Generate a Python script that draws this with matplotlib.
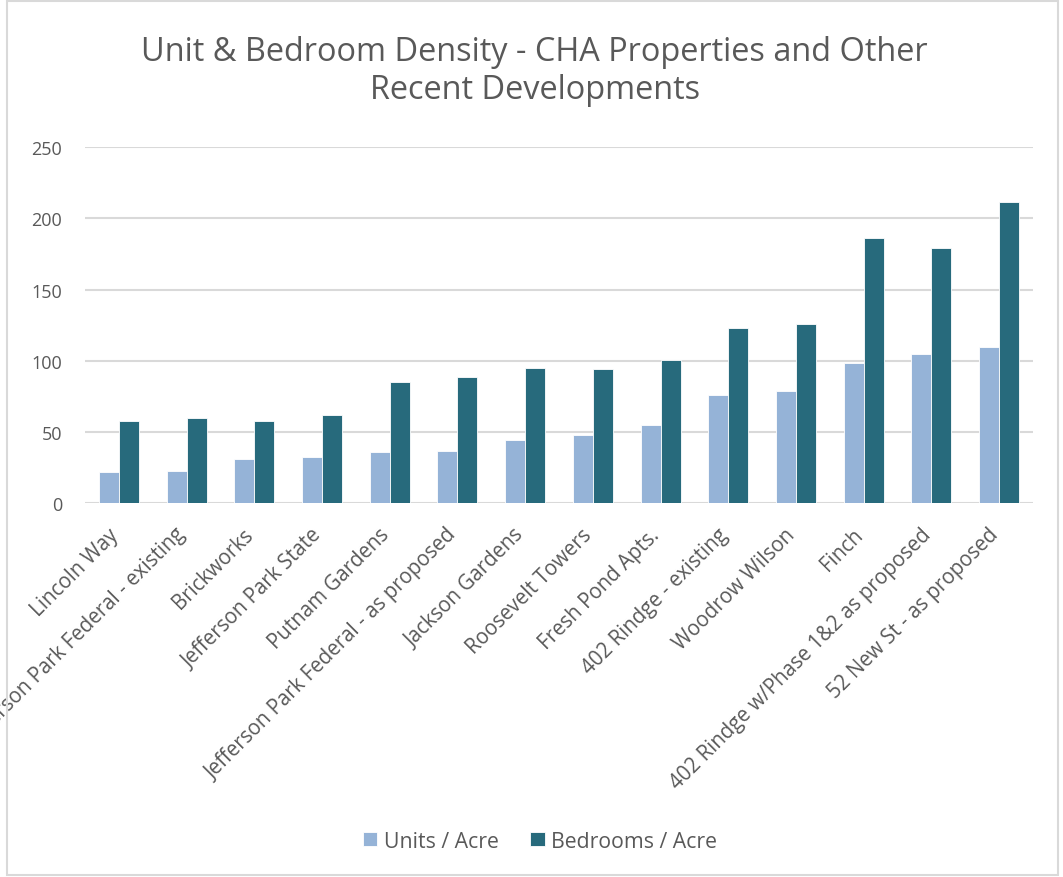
import matplotlib
matplotlib.use('Agg')
import matplotlib.pyplot as plt
import numpy as np

# values
sites = ['Lincoln Way', 'Jefferson Park Federal - existing', 'Brickworks',
         'Jefferson Park State', 'Putnam Gardens',
         'Jefferson Park Federal - as proposed', 'Jackson Gardens',
         'Roosevelt Towers', 'Fresh Pond Apts.', '402 Rindge - existing',
         'Woodrow Wilson', 'Finch', '402 Rindge w/Phase 1&2 as proposed',
         '52 New St - as proposed']
units = [22.0, 23.0, 31.0, 32.8, 36.1, 36.6, 44.6, 47.6, 54.9, 76.1,
         79.1, 98.3, 104.6, 109.4]
bedrooms = [57.7, 59.6, 58.0, 62.0, 84.8, 88.7, 95.1, 94.4, 100.4, 123.2,
            125.6, 185.9, 178.9, 211.5]
yticks = [0, 50, 100, 150, 200, 250]

text_col = '#595959'
grid_col = '#D9D9D9'
plt.rcParams['font.family'] = ['Open Sans', 'DejaVu Sans']

fig = plt.figure(figsize=(10.63, 8.78), dpi=100)
ax = fig.add_axes([0.080, 0.4256, 0.8918, 0.4058])

x = np.arange(len(sites))
w = 0.295
ax.bar(x - w / 2, units, w, color='#95B3D7', edgecolor='white', linewidth=0.6,
       label='Units / Acre', zorder=3)
ax.bar(x + w / 2, bedrooms, w, color='#276A7C', edgecolor='white', linewidth=0.6,
       label='Bedrooms / Acre', zorder=3)

ax.set_xlim(-0.5, len(sites) - 0.5)
ax.set_ylim(0, 250)
ax.set_yticks(yticks)
ax.grid(axis='y', color=grid_col, linewidth=1.5, zorder=0)
for s in ['top', 'right', 'left', 'bottom']:
    ax.spines[s].set_visible(False)
ax.tick_params(length=0, colors=text_col)
ax.tick_params(axis='y', pad=16.5, labelsize=13)
ax.set_xticks(x)
ax.set_xticklabels(sites, rotation=45, ha='right', va='baseline',
                   rotation_mode='anchor')
ax.tick_params(axis='x', pad=23, labelsize=14.8)

fig.text(0.503, 0.919, 'Unit & Bedroom Density - CHA Properties and Other\nRecent Developments',
         ha='center', va='center', fontsize=23.4, color=text_col, linespacing=1.2)

fig.legend(loc='center', bbox_to_anchor=(0.508, 0.041), ncol=2, frameon=False,
           fontsize=15.3, labelcolor=text_col, handlelength=0.68,
           handleheight=0.68, columnspacing=1.5, handletextpad=0.3)

# light frame around the whole chart
fig.patches.append(plt.Rectangle((0.007, 0.002), 0.988, 0.996, transform=fig.transFigure,
                                 fill=False, edgecolor=grid_col, linewidth=1.5))

plt.savefig('out.png', dpi=100)
